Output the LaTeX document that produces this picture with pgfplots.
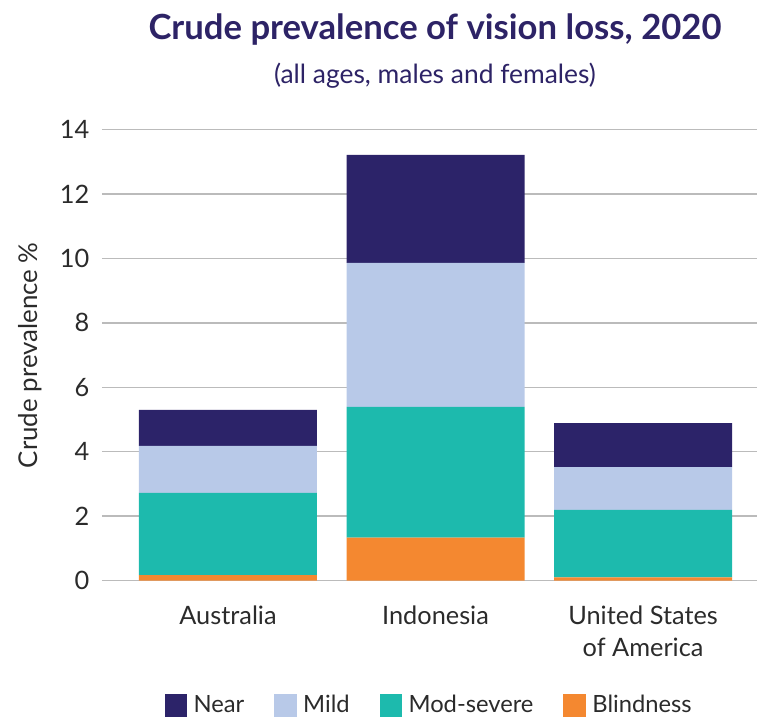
\documentclass[border=0pt]{standalone}
\usepackage{fontspec}
\setmainfont{Lato}
\usepackage{pgfplots}
\pgfplotsset{compat=1.18}
\definecolor{cNear}{HTML}{2C2369}
\definecolor{cMild}{HTML}{B8C9E8}
\definecolor{cMod}{HTML}{1DBAAD}
\definecolor{cBlind}{HTML}{F48830}
\definecolor{cTitle}{HTML}{2D2366}
\definecolor{cText}{HTML}{2B2B2B}
\definecolor{cGrid}{HTML}{BBBBBB}
\begin{document}
\begin{tikzpicture}
\useasboundingbox (-76.5pt,-103.1pt) rectangle (491.25pt,435.4pt);
\begin{axis}[
  scale only axis,
  width=491.25pt, height=338.25pt,
  ybar stacked,
  bar width=133.5pt,
  xmin=-0.607, xmax=2.549,
  ymin=0, ymax=14,
  ytick={0,2,...,14},
  xtick={0,1,2},
  xticklabels={Australia,Indonesia,{United States\\of America}},
  axis line style={draw=none},
  major tick length=0pt,
  ymajorgrids,
  grid style={cGrid, line width=1.1pt},
  /pgf/number format/assume math mode=true,
  tick label style={font=\fontsize{19}{24}\selectfont, text=cText},
  xticklabel style={align=center, anchor=north, yshift=-15.5pt},
  yticklabel style={anchor=east, xshift=-6pt},
  legend columns=4,
  legend reversed=true,
  legend style={draw=none, fill=none, font=\fontsize{17.8}{21}\selectfont, text=cText,
     at={(245.6pt,-93.5pt)}, anchor=center,
     /tikz/every odd column/.append style={column sep=2.7pt},
     /tikz/every even column/.append style={column sep=20.5pt}},
  legend image code/.code={\fill[#1] (0pt,-8.8pt) rectangle (17pt,8.2pt);},
]
\addplot[fill=cBlind, draw=none] coordinates {(0,0.17) (1,1.33) (2,0.10)};
\addlegendentry{Blindness}
\addplot[fill=cMod, draw=none] coordinates {(0,2.55) (1,4.06) (2,2.09)};
\addlegendentry{Mod-severe}
\addplot[fill=cMild, draw=none] coordinates {(0,1.46) (1,4.47) (2,1.33)};
\addlegendentry{Mild}
\addplot[fill=cNear, draw=none] coordinates {(0,1.12) (1,3.35) (2,1.37)};
\addlegendentry{Near}
\end{axis}
\node[font=\bfseries\fontsize{26}{30}\selectfont, text=cTitle] at (249.75pt,412.9pt) {Crude prevalence of vision loss, 2020};
\node[font=\fontsize{19.8}{24}\selectfont, text=cTitle] at (249.75pt,379pt) {(all ages, males and females)};
\node[font=\fontsize{19.4}{24}\selectfont, text=cText, rotate=90] at (-54pt,169pt) {Crude prevalence \%};
\end{tikzpicture}
\end{document}
